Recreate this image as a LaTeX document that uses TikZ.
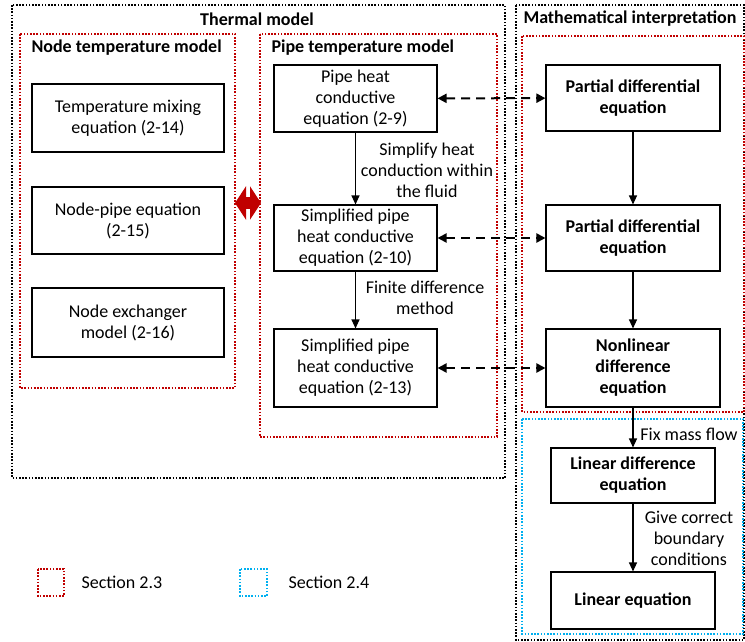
\documentclass[tikz,border=0pt]{standalone}
\usepackage{fontspec}
\setmainfont{Carlito}
\usetikzlibrary{arrows.meta,positioning}
\definecolor{secred}{RGB}{192,0,0}
\definecolor{seccyan}{RGB}{0,176,240}
\tikzset{
  eqbox/.style     = {draw, line width=1.1pt, align=center, inner sep=2pt,
                      font=\fontsize{18}{21}\selectfont},
  mathbox/.style   = {eqbox, font=\bfseries\fontsize{18}{21}\selectfont},
  frame/.style     = {line width=1.6pt, dash pattern=on 1.6pt off 1.6pt},
  title/.style     = {font=\bfseries\fontsize{18}{21}\selectfont},
  steplabel/.style = {align=center, font=\fontsize{18}{21}\selectfont},
  flow/.style      = {-{Triangle[length=9pt,width=8pt]}, line width=1.2pt},
  link/.style      = {{Triangle[length=9pt,width=9pt]}-{Triangle[length=9pt,width=9pt]},
                      line width=2pt, dash pattern=on 9pt off 6pt},
  swap/.style      = {{Triangle[length=11pt,width=33pt]}-{Triangle[length=11pt,width=33pt]},
                      line width=12pt, secred},
}

\begin{document}
\begin{tikzpicture}[x=1pt,y=-1pt]
  \useasboundingbox (0,0) rectangle (745,642);

  % frames
  \draw[frame] (12,5) rectangle (505,478);
  \draw[frame] (516,5) rectangle (744,640);
  \draw[frame,secred] (20,34) rectangle (235,388);
  \draw[frame,secred] (260,34) rectangle (497,437);
  \draw[frame,secred] (522,36) rectangle (744,412);
  \draw[frame,seccyan] (522,419) rectangle (743,634);

  \node[title] (tthermal) at (257,19) {Thermal model};
  \node[title] (tmath) at (630,19) {Mathematical interpretation};
  \node[title,anchor=west] (tnode) at (28,48) {Node temperature model};
  \node[title,anchor=west] (tpipe) at (268,48) {Pipe temperature model};

  % node temperature model
  \node[eqbox,minimum width=192pt,minimum height=68pt] (mix) at (128,118)
       {Temperature mixing\\equation (2-14)};
  \node[eqbox,minimum width=192pt,minimum height=67pt] (nodepipe) at (128,220.5)
       {Node-pipe equation\\(2-15)};
  \node[eqbox,minimum width=192pt,minimum height=69pt] (exch) at (128,322.5)
       {Node exchanger\\model (2-16)};

  % pipe temperature model
  \node[eqbox,minimum width=163pt,minimum height=67pt] (pipe1) at (355.5,98.5)
       {Pipe heat\\conductive\\equation (2-9)};
  \node[eqbox,minimum width=163pt,minimum height=66pt] (pipe2) at (355.5,238)
       {Simplified pipe\\heat conductive\\equation (2-10)};
  \node[eqbox,minimum width=163pt,minimum height=78pt] (pipe3) at (355.5,368)
       {Simplified pipe\\heat conductive\\equation (2-13)};

  % mathematical interpretation
  \node[mathbox,minimum width=174pt,minimum height=66pt] (pde1) at (633,98)
       {Partial differential\\equation};
  \node[mathbox,minimum width=174pt,minimum height=66pt] (pde2) at (633,238)
       {Partial differential\\equation};
  \node[mathbox,minimum width=174pt,minimum height=78pt] (nonlin) at (633,368)
       {Nonlinear\\difference\\equation};
  \node[mathbox,minimum width=164pt,minimum height=55pt] (lindiff) at (633,475.5)
       {Linear difference\\equation};
  \node[mathbox,minimum width=164pt,minimum height=57pt] (lineq) at (633,600.5)
       {Linear equation};

  % steps
  \draw[flow] (pipe1) -- (pipe2);
  \draw[flow] (pipe2) -- (pipe3);
  \draw[flow] (pde1) -- (pde2);
  \draw[flow] (pde2) -- (nonlin);
  \draw[flow] (nonlin) -- (lindiff);
  \draw[flow] (lindiff) -- (lineq);
  \node[steplabel] (lsimp) at (427,170) {Simplify heat\\conduction within\\the fluid};
  \node[steplabel] (lfin) at (425,298) {Finite difference\\method};
  \node[steplabel] (lfix) at (689,434) {Fix mass flow};
  \node[steplabel] (lbound) at (689,538) {Give correct\\boundary\\conditions};

  % links
  \draw[link] (pipe1) -- (pde1);
  \draw[link] (pipe2) -- (pde2);
  \draw[link] (pipe3) -- (nonlin);

  \coordinate (sl) at (235,203);
  \coordinate (sr) at (261,203);
  \draw[swap] (sl) -- (sr);

  % legend
  \draw[frame,secred] (38,569) rectangle (64,596);
  \node[steplabel,anchor=west] (leg23) at (78,582) {Section 2.3};
  \draw[frame,seccyan] (240,569) rectangle (267,596);
  \node[steplabel,anchor=west] (leg24) at (285,582) {Section 2.4};
\end{tikzpicture}
\end{document}
